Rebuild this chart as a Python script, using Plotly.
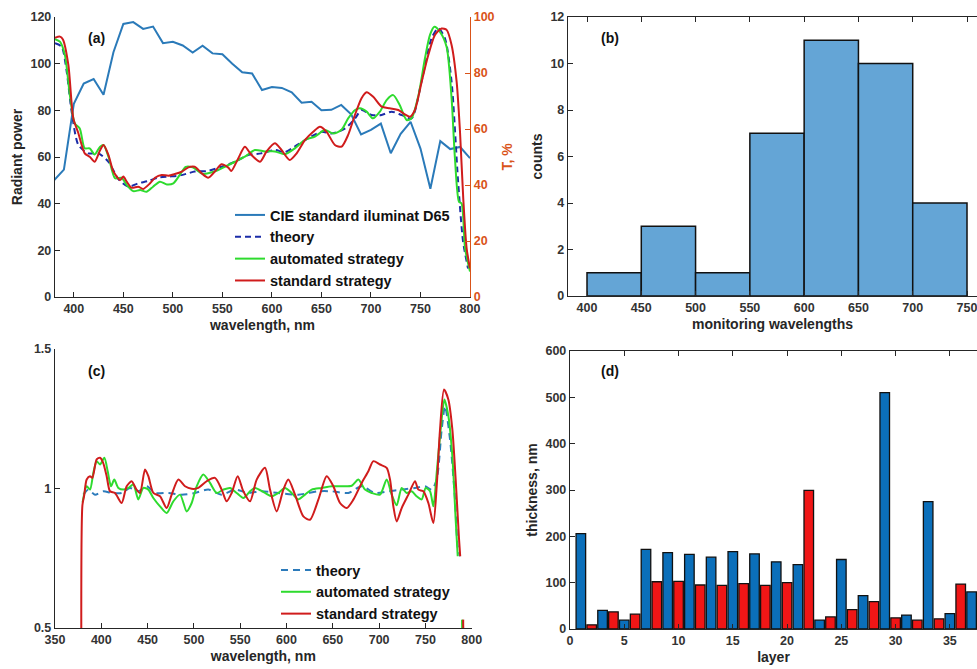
import plotly.graph_objects as go

W, H = 977, 669

# ---------------- (a) D65 + transmittance ----------------
d65_wl = [380, 390, 400, 410, 420, 430, 440, 450, 460, 470, 480, 490, 500, 510, 520,
          530, 540, 550, 560, 570, 580, 590, 600, 610, 620, 630, 640, 650, 660, 670,
          680, 690, 700, 710, 720, 730, 740, 750, 760, 770, 780, 790, 800]
d65_power = [50.0, 54.6, 82.8, 91.5, 93.4, 86.7, 104.9, 117.0, 117.8, 114.9, 115.9, 108.8,
             109.4, 107.8, 104.8, 107.7, 104.4, 104.0, 100.0, 96.3, 95.8, 88.7, 90.0, 89.6,
             87.7, 83.3, 83.7, 80.0, 80.2, 82.3, 78.3, 69.7, 71.6, 74.3, 61.6, 69.9, 75.1,
             63.6, 46.4, 66.8, 63.4, 64.3, 59.5]

theory_a_wl = [381, 387.7, 392.8, 397.8, 404.6, 414.7, 424.8, 435, 445, 455, 465, 475, 485,
               495.5, 505.6, 515.7, 522, 535, 549, 562.6, 576, 589, 603, 613, 623, 636.7,
               650, 660, 674, 684, 690.5, 700.6, 710.7, 720.8, 731, 741, 751, 761.2, 768,
               774.7, 781.4, 788, 793, 798]
theory_a_T = [90.6, 89.4, 80.5, 66.2, 54.3, 51.3, 51.3, 48.3, 42.1, 39.4, 40.6, 41.4, 42.6,
              43, 43.3, 44.2, 44.8, 45, 46.5, 48.3, 50.7, 51.3, 52.5, 51.7, 53.7, 56.7,
              59, 58.4, 60.2, 63.8, 66.8, 65, 65, 66.2, 65, 63.8, 76.9, 92.4, 96,
              92.4, 76.9, 41.2, 19.8, 10.2]

auto_a_wl = [381, 386, 391, 396, 401, 406, 411, 416, 421, 426.5, 430, 435, 441.6, 448.3,
             453.4, 460, 467, 473.6, 480, 487, 494, 500.5, 507, 513, 520, 530, 542, 552.5,
             562.6, 572.7, 582.8, 592.9, 603, 613.1, 623.2, 633.3, 643.4, 653.5, 662, 670,
             677, 684, 689, 695.6, 702, 709, 716, 722.5, 729, 736, 741, 748, 754.5, 759.6,
             764, 769.7, 776.4, 781.4, 784.8, 788.9, 791.5, 795, 800]
auto_a_T = [92.1, 91.2, 86.4, 72.1, 62, 60.2, 53.1, 53.1, 50.9, 53.7, 54.3, 50.1, 42.4, 42.6,
            40, 37.8, 38.2, 37.6, 39.4, 41.2, 40.2, 40.6, 43.6, 46.5, 46.3, 44, 44.8, 46.5,
            48.3, 50.1, 52.5, 52, 52, 51, 53.1, 56.1, 57.3, 59.6, 58.4, 59.6,
            63.8, 66.8, 67.4, 66.2, 63.8, 66.2, 70.4, 72.1, 68.6, 63.2, 63.8, 72.1, 85.2, 93.6,
            96.5, 94.7, 89.3, 71, 49.5, 34, 33.4, 17.4, 9.1]

std_a_wl = [381, 386, 389, 394.5, 399.5, 404.6, 411, 416, 421, 426.5, 430, 435, 440, 446.7,
            450, 453.4, 458.4, 465, 470, 477, 482, 488.7, 495.5, 502, 509, 515.7, 522, 529,
            535.7, 542.4, 549, 556, 559, 566, 572.7, 579.4, 588, 594.6, 603, 609.7, 618, 625,
            633.3, 641.7, 648.5, 655.2, 663.6, 670.3, 677, 683.8, 690.5, 695.6, 702.3, 710.7,
            719, 727.6, 734.3, 739.4, 744.4, 751.2, 757.9, 764.6, 771.3, 776.4, 781.4, 786.5,
            789.9, 793.2, 796.6, 800]
std_a_T = [92.6, 93, 92, 82.9, 63.8, 58.5, 51.3, 50.1, 48.3, 52.4, 54.3, 50.7, 44.8, 41.8,
           43, 41.2, 39, 39.4, 38.6, 40.6, 42.6, 43.6, 43.3, 43.9, 44.8, 46.3, 46.5, 44.2,
           42.6, 44.8, 47.4, 46.2, 45, 49.5, 53.7, 50.7, 48.3, 52, 54.9, 52.5, 48.9, 51.3,
           56, 59, 60.8, 59, 54.3, 53.7, 57.9, 65, 71, 73.1, 71.5, 68,
           67.4, 66.8, 65.2, 64.4, 66.8, 76.9, 86.4, 93.6, 95.9, 95.4, 90, 76.9,
           59, 35.2, 17.4, 10.2]

# ---------------- (b) histogram ----------------
hist_edges = [400, 450, 500, 550, 600, 650, 700, 750]
hist_counts = [1, 3, 1, 7, 11, 10, 4]

# ---------------- (c) normalised ----------------
theory_c_wl = [380.6, 386, 393.2, 402.2, 411.2, 422, 431, 440, 449, 458, 472.4, 486.8, 501.2,
               515.6, 530, 544.4, 558.8, 573.2, 591.2, 612.8, 634.4, 648.8, 666.8, 681.2,
               695.6, 710, 724.4, 738.8, 749.6, 756.8, 762.2, 767.6, 771.2, 776.6, 782,
               784.9, 787.4]
theory_c_val = [0.978, 0.996, 0.978, 0.99, 0.984, 0.984, 1.002, 0.99, 1.008, 0.984, 0.984,
                0.978, 0.984, 0.996, 0.978, 0.996, 0.984, 0.99, 0.984, 0.978, 0.99, 0.99,
                0.984, 1.008, 0.984, 0.99, 0.996, 1.002, 1.008, 0.996, 1.032, 1.212, 1.295,
                1.176, 0.961, 0.79, 0.757]

auto_c_wl = [379.8, 384.2, 387.8, 391.4, 395, 398.6, 403.3, 406.9, 410.5, 414, 418.4, 423.8,
             429.2, 434.6, 440, 445.4, 450.8, 456.2, 463.4, 470.6, 477.8, 485, 492.2, 497.6,
             503, 510.2, 517.4, 524.6, 531.8, 539, 546.2, 553.4, 560.6, 566, 576.8, 584,
             591.2, 598.4, 605.6, 612.8, 620, 627.2, 638, 648.8, 659.6, 670.4, 677.6, 684.8,
             692, 701, 708.2, 713.6, 719, 724.4, 729.8, 735.2, 740.6, 746, 750.3, 755,
             758.6, 762.2, 766.5, 770.5, 774.8, 779.1, 782.7, 784.9, None, 789.6, 790.0]
auto_c_val = [0.95, 1.008, 0.996, 1.056, 1.098, 1.086, 1.11, 1.062, 1.008, 1.032, 1.002, 0.996,
              1.002, 1.014, 0.961, 1.002, 0.996, 0.966, 0.936, 0.912, 0.954, 0.978, 0.918,
              0.948, 1.008, 1.05, 1.02, 0.984, 0.996, 1.002, 0.984, 0.966, 0.99, 1.002, 0.984,
              0.972, 0.984, 1.002, 0.984, 0.961, 0.978, 0.996, 1.002, 1.008, 1.008, 1.01,
              1.032, 0.996, 0.984, 0.978, 1.032, 0.978, 0.94, 1.002, 0.984, 0.99, 0.972,
              0.961, 1.002, 0.99, 0.936, 1.056, 1.212, 1.319, 1.26, 1.116, 0.888, 0.757,
              None, 0.53, 0.3]

std_c_wl = [378.8, 379.6, 381.5, 384.2, 387.8, 390.3, 395, 398.6, 402, 405.8, 409.4, 414.8,
            422, 427.4, 432.8, 438, 441.8, 447.2, 450.8, 456.2, 463.4, 470.6, 476, 483.2,
            490.4, 497.6, 504.8, 513.8, 522.8, 530, 535.4, 540.8, 547.3, 553.4, 560.6, 567.8,
            576.8, 582.2, 589.4, 596.6, 602, 609.2, 618.2, 625.4, 634.4, 643.4, 650.6, 657.8,
            665, 672.2, 681.2, 688.4, 693.8, 701, 708.2, 711.8, 715.4, 719, 724.4, 731.6,
            738.8, 742.4, 747.8, 753.2, 758.6, 762.2, 765.8, 770.1, 774.8, 779.1, 782.7,
            786.3, 787.6, None, 790.8, 791.2]
std_c_val = [0.0, 0.94, 0.975, 1.032, 1.044, 1.038, 1.104, 1.11, 1.092, 1.044, 0.99, 0.984,
             0.948, 1.008, 1.026, 0.996, 0.984, 1.068, 1.044, 0.984, 0.972, 0.93, 0.978, 1.032,
             1.008, 0.999, 1.002, 1.026, 1.038, 0.996, 0.954, 0.984, 1.044, 0.99, 0.954, 1.032,
             1.074, 0.996, 0.918, 0.996, 1.032, 0.978, 0.9, 0.888, 0.96, 1.044, 1.008, 0.948,
             0.93, 0.96, 1.02, 1.062, 1.098, 1.086, 1.074, 1.032, 0.936, 0.882, 0.93, 0.978,
             1.026, 0.996, 0.99, 0.948, 0.876, 1.008, 1.212, 1.355, 1.319, 1.212, 1.032,
             0.82, 0.757, None, 0.53, 0.3]

# ---------------- (d) layer thickness ----------------
layers_blue = [1, 3, 5, 7, 9, 11, 13, 15, 17, 19, 21, 23, 25, 27, 29, 31, 33, 35, 37]
thick_blue = [206, 40, 19, 172, 165, 161, 155, 167, 162, 145, 139, 19, 150, 72, 510, 30, 275, 33, 80]
layers_red = [2, 4, 6, 8, 10, 12, 14, 16, 18, 20, 22, 24, 26, 28, 30, 32, 34, 36]
thick_red = [9, 37, 32, 102, 103, 95, 94, 98, 94, 100, 299, 26, 42, 59, 24, 19, 22, 97]

# colours
c_d65 = "#2A7AB9"
c_theory_a = "#1B2CA8"
c_theory_c = "#2C7BBB"
c_auto = "#2EDB2E"
c_std = "#D01C1C"
c_orange = "#D95319"
ink = "#262626"
FONT = "Liberation Sans, Arial, sans-serif"


def dom_x(left, right):
    return [left / W, right / W]


def dom_y(top, bottom):
    return [1 - bottom / H, 1 - top / H]


def axis(**kw):
    base = dict(showgrid=False, zeroline=False, showline=True, linecolor=ink, linewidth=1.4,
                ticks="inside", ticklen=5, tickwidth=1.3, tickcolor=ink,
                ticklabeloverflow="allow",
                tickfont=dict(family=FONT, size=12.5, color="#333333", weight="bold"))
    base.update(kw)
    return base


def atitle(text, standoff, color=ink):
    return dict(text=text, standoff=standoff,
                font=dict(family=FONT, size=14, color=color, weight="bold"))


fig = go.Figure()

# (a)
fig.add_trace(go.Scatter(x=d65_wl, y=d65_power, mode="lines", name="CIE standard iluminat D65",
                         line=dict(color=c_d65, width=2), xaxis="x", yaxis="y", legend="legend"))
fig.add_trace(go.Scatter(x=theory_a_wl, y=theory_a_T, mode="lines", name="theory",
                         line=dict(color=c_theory_a, width=2, dash="6px,4px", shape="spline", smoothing=0.7),
                         xaxis="x", yaxis="y2", legend="legend"))
fig.add_trace(go.Scatter(x=auto_a_wl, y=auto_a_T, mode="lines", name="automated strategy",
                         line=dict(color=c_auto, width=2, shape="spline", smoothing=0.7),
                         xaxis="x", yaxis="y2", legend="legend"))
fig.add_trace(go.Scatter(x=std_a_wl, y=std_a_T, mode="lines", name="standard strategy",
                         line=dict(color=c_std, width=2, shape="spline", smoothing=0.7),
                         xaxis="x", yaxis="y2", legend="legend"))

# (b)
hist_mid = [(a + b) / 2 for a, b in zip(hist_edges[:-1], hist_edges[1:])]
fig.add_trace(go.Bar(x=hist_mid, y=hist_counts, width=50, showlegend=False,
                     marker=dict(color="#64A5D6", line=dict(color="#111111", width=1.5)),
                     xaxis="x3", yaxis="y3"))

# (c)
fig.add_trace(go.Scatter(x=theory_c_wl, y=theory_c_val, mode="lines", name="theory",
                         line=dict(color=c_theory_c, width=2, dash="7px,5px", shape="spline", smoothing=0.7),
                         xaxis="x4", yaxis="y4", legend="legend2"))
fig.add_trace(go.Scatter(x=auto_c_wl, y=auto_c_val, mode="lines", name="automated strategy",
                         line=dict(color=c_auto, width=2, shape="spline", smoothing=0.7),
                         xaxis="x4", yaxis="y4", legend="legend2"))
fig.add_trace(go.Scatter(x=std_c_wl, y=std_c_val, mode="lines", name="standard strategy",
                         line=dict(color=c_std, width=2, shape="spline", smoothing=0.7),
                         xaxis="x4", yaxis="y4", legend="legend2"))

# (d)
fig.add_trace(go.Bar(x=layers_blue, y=thick_blue, width=0.88, showlegend=False,
                     marker=dict(color="#0B6FBA", line=dict(color="#111111", width=1.3)),
                     xaxis="x5", yaxis="y5"))
fig.add_trace(go.Bar(x=layers_red, y=thick_red, width=0.88, showlegend=False,
                     marker=dict(color="#F01616", line=dict(color="#111111", width=1.3)),
                     xaxis="x5", yaxis="y5"))

legend_font = dict(family=FONT, size=14.5, color="#111111", weight="bold")

fig.update_layout(
    width=W, height=H, template="none",
    paper_bgcolor="white", plot_bgcolor="white",
    margin=dict(l=0, r=0, t=0, b=0),
    barmode="overlay",
    font=dict(family=FONT),
    xaxis=axis(domain=dom_x(55, 470), range=[381, 800], tick0=400, dtick=50, anchor="y",
               title=atitle("wavelength, nm", 4)),
    yaxis=axis(domain=dom_y(17, 297), range=[0, 120], dtick=20, anchor="x",
               title=atitle("Radiant power", 4)),
    yaxis2=axis(range=[0, 100], dtick=20, anchor="x", overlaying="y", side="right",
                linecolor=c_orange, tickcolor=c_orange,
                tickfont=dict(family=FONT, size=12.5, color=c_orange, weight="bold"),
                title=atitle("T, %", 8, c_orange)),
    xaxis3=axis(domain=dom_x(568, 977), range=[382.5, 759.2], tick0=400, dtick=50, anchor="y3",
                mirror="ticks", title=atitle("monitoring wavelengths", 4)),
    yaxis3=axis(domain=dom_y(17, 296), range=[0, 12], dtick=2, anchor="x3",
                title=atitle("counts", 4)),
    xaxis4=axis(domain=dom_x(55, 471.7), range=[350, 800], tick0=350, dtick=50, anchor="y4",
                title=atitle("wavelength, nm", 4)),
    yaxis4=axis(domain=dom_y(349, 628), range=[0.5, 1.5], tickvals=[0.5, 1, 1.5], anchor="x4"),
    xaxis5=axis(domain=dom_x(570, 977), range=[0, 37.5], tick0=0, dtick=5, anchor="y5",
                mirror="ticks", title=atitle("layer", 4)),
    yaxis5=axis(domain=dom_y(351, 629), range=[0, 600], dtick=100, anchor="x5",
                title=atitle("thickness, nm", 4)),
    legend=dict(x=230 / W, y=1 - 199 / H, xanchor="left", yanchor="top",
                bgcolor="rgba(0,0,0,0)", borderwidth=0, font=legend_font,
                tracegroupgap=0, itemwidth=30),
    legend2=dict(x=276 / W, y=1 - 554 / H, xanchor="left", yanchor="top",
                 bgcolor="rgba(0,0,0,0)", borderwidth=0, font=legend_font,
                 tracegroupgap=0, itemwidth=30),
)

label_font = dict(family=FONT, size=14, color="#111111", weight="bold")
for txt, px, py in [("(a)", 96, 37.5), ("(b)", 610, 37.5), ("(c)", 96, 371), ("(d)", 610, 371)]:
    fig.add_annotation(text=txt, x=px / W, y=1 - py / H, xref="paper", yref="paper",
                       showarrow=False, font=label_font, xanchor="center", yanchor="middle")

# page body has a default margin; drop it so the figure sits at the window corner
fig.write_html("out.html", config={"displayModeBar": False},
               post_script="document.body.style.margin='0';")
